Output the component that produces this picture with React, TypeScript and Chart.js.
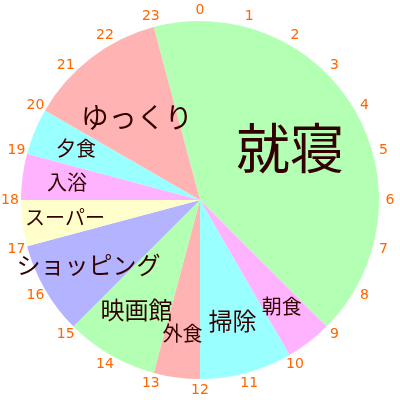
import React, { useEffect, useRef } from "react";
import { Chart, registerables } from "chart.js";

Chart.register(...registerables);

// daily schedule, hours spent in each activity (clockwise from 23:00)
const activities = ["就寝", "朝食", "掃除", "外食", "映画館", "ショッピング", "スーパー", "入浴", "夕食", "ゆっくり"];
const hours = [10, 1, 2, 1, 2, 2, 1, 1, 1, 3];
const startHour = 23;
const hourLabels = Array.from({ length: 24 }, (_, i) => String(i));

const colors = ["#b3ffb3", "#ffb3ff", "#99ffff", "#ffb3b3", "#b3ffb3", "#b3b3ff", "#ffffcc", "#ffb3ff", "#99ffff", "#ffb3b3"];
// label font size / distance from centre (fraction of radius)
const labelSizes = [54, 20, 24, 20, 24, 24, 20, 20, 20, 28];
const labelRadius = [0.58, 0.75, 0.7, 0.75, 0.71, 0.72, 0.76, 0.75, 0.75, 0.58];

const labelPlugin = {
	id: "scheduleLabels",
	afterDatasetsDraw(chart: any) {
		const ctx = chart.ctx;
		const meta = chart.getDatasetMeta(0);
		ctx.save();
		ctx.textAlign = "center";
		ctx.textBaseline = "middle";

		meta.data.forEach((arc: any, i: number) => {
			const { x, y, startAngle, endAngle, outerRadius } = arc.getProps(["x", "y", "startAngle", "endAngle", "outerRadius"], true);
			const mid = (startAngle + endAngle) / 2;
			const r = outerRadius * labelRadius[i];
			ctx.font = `${labelSizes[i]}px "Noto Sans CJK JP", sans-serif`;
			ctx.fillStyle = "#330000";
			ctx.fillText(activities[i], x + Math.cos(mid) * r, y + Math.sin(mid) * r);
		});

		// hour marks round the clock
		const first = meta.data[0];
		if (first) {
			const { x, y, outerRadius } = first.getProps(["x", "y", "outerRadius"], true);
			ctx.font = '14px "DejaVu Sans", sans-serif';
			ctx.fillStyle = "#ff6600";
			hourLabels.forEach((lbl, h) => {
				const a = -Math.PI / 2 + (h / 24) * Math.PI * 2;
				const r = outerRadius + 11;
				ctx.fillText(lbl, x + Math.cos(a) * r, y + Math.sin(a) * r);
			});
		}
		ctx.restore();
	},
};

const App: React.FC = () => {
	const chartRef = useRef<HTMLCanvasElement | null>(null);
	const chartInstanceRef = useRef<Chart<"pie"> | null>(null);

	useEffect(() => {
		if (!chartRef.current) return;

		if (chartInstanceRef.current) {
			chartInstanceRef.current.destroy();
		}

		const config = {
			type: "pie",
			data: {
				labels: activities,
				datasets: [
					{
						data: hours,
						backgroundColor: colors,
						borderWidth: 0,
					},
				],
			},
			options: {
				animation: false,
				responsive: true,
				maintainAspectRatio: false,
				rotation: startHour * 15 - 360,
				layout: { padding: 21 },
				plugins: {
					legend: { display: false },
					tooltip: { enabled: false },
				},
			},
			plugins: [labelPlugin],
		};

		// @ts-ignore
		chartInstanceRef.current = new Chart(chartRef.current, config);

		return () => {
			if (chartInstanceRef.current) {
				chartInstanceRef.current.destroy();
				chartInstanceRef.current = null;
			}
		};
	}, []);

	return (
		<div style={{ position: "absolute", left: 0, top: 0, width: 400, height: 400, background: "#fff" }}>
			<canvas ref={chartRef} />
		</div>
	);
};

export default App;
